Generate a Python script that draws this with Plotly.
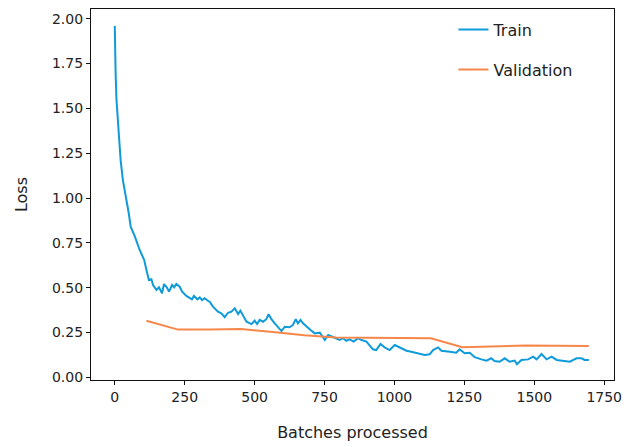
import plotly.graph_objects as go

# Training loss (batch index, loss)
train_batches = [0, 1, 3, 6, 12, 18, 21, 29, 42, 50, 57, 72, 89, 105, 113, 122, 131, 137, 149,
                 158, 169, 176, 186, 194, 205, 212, 220, 232, 241, 256, 276, 283, 295, 304, 312, 321, 333, 340, 351,
                 357, 369, 381, 393, 405, 417, 429, 441, 449, 459, 471, 489, 500, 509, 518, 530, 542, 550,
                 560, 572, 584, 596, 608, 625, 637, 647, 655, 664, 673, 685, 700, 715, 733, 751, 763,
                 778, 792, 804, 816, 828, 840, 854, 870, 882, 900, 923, 935, 950, 965, 983, 1001, 1019,
                 1043, 1060, 1078, 1108, 1126, 1138, 1156, 1168, 1198, 1221, 1233, 1251, 1269, 1287,
                 1311, 1329, 1346, 1358, 1376, 1394, 1412, 1430, 1438, 1454, 1478, 1496, 1508, 1526,
                 1544, 1562, 1580, 1603, 1627, 1651, 1669, 1680, 1695]
train_loss = [1.96, 1.71, 1.70, 1.55, 1.40, 1.23, 1.21, 1.10, 0.99, 0.915, 0.84, 0.785, 0.71, 0.655, 0.60, 0.543, 0.547, 0.515, 0.487,
              0.502, 0.469, 0.52, 0.502, 0.478, 0.515, 0.502, 0.52, 0.505, 0.478, 0.454, 0.435, 0.454, 0.435, 0.446, 0.431, 0.441, 0.427, 0.42, 0.394,
              0.385, 0.366, 0.357, 0.335, 0.36, 0.366, 0.385, 0.353, 0.372, 0.342, 0.31, 0.297, 0.316, 0.297, 0.32, 0.31, 0.324, 0.352,
              0.324, 0.301, 0.282, 0.258, 0.282, 0.279, 0.292, 0.324, 0.301, 0.32, 0.301, 0.282, 0.264, 0.245, 0.249, 0.208, 0.236,
              0.226, 0.218, 0.208, 0.218, 0.204, 0.212, 0.199, 0.218, 0.208, 0.199, 0.156, 0.152, 0.186, 0.167, 0.152, 0.18, 0.167,
              0.148, 0.143, 0.137, 0.124, 0.128, 0.152, 0.167, 0.148, 0.143, 0.137, 0.156, 0.134, 0.137, 0.112,
              0.10, 0.093, 0.106, 0.091, 0.087, 0.106, 0.087, 0.093, 0.073, 0.097, 0.10, 0.115, 0.10, 0.13,
              0.10, 0.115, 0.097, 0.093, 0.087, 0.106, 0.106, 0.097, 0.097]

# Validation loss (evaluated once per epoch)
val_batches = [113, 226, 339, 452, 565, 678, 791, 904, 1017, 1130, 1243, 1356, 1469, 1582, 1695]
val_loss = [0.315, 0.266, 0.267, 0.269, 0.252, 0.234, 0.222, 0.220, 0.219, 0.218, 0.168, 0.172, 0.177, 0.176, 0.174]

x_ticks = [0, 250, 500, 750, 1000, 1250, 1500, 1750]
y_ticks = [0.0, 0.25, 0.5, 0.75, 1.0, 1.25, 1.5, 1.75, 2.0]

FONT = "DejaVu Sans"
fig = go.Figure()
fig.add_trace(go.Scatter(x=train_batches, y=train_loss, mode="lines", name="Train",
                         legendgroup="a", line=dict(color="#0f9ad9", width=2)))
fig.add_trace(go.Scatter(x=val_batches, y=val_loss, mode="lines", name="Validation",
                         legendgroup="b", line=dict(color="#f5874a", width=2)))

axis_common = dict(showline=True, linecolor="#111", linewidth=1.2, mirror=True, ticks="outside",
                   ticklen=4, tickcolor="#111", showgrid=False, zeroline=False,
                   tickfont=dict(family=FONT, size=14, color="#222"))
fig.update_xaxes(range=[-85, 1785], tickvals=x_ticks, ticktext=[str(v) for v in x_ticks],
                 title=dict(text="Batches processed", font=dict(family=FONT, size=16, color="#222"), standoff=22),
                 **axis_common)
fig.update_yaxes(range=[-0.015, 2.054], tickvals=y_ticks, ticktext=[f"{v:.2f}" for v in y_ticks],
                 title=dict(text="Loss", font=dict(family=FONT, size=16, color="#222"), standoff=20),
                 **axis_common)
fig.update_layout(width=636, height=447, margin=dict(l=91, r=22, t=9, b=67),
                  plot_bgcolor="white", paper_bgcolor="white",
                  font=dict(family=FONT, size=15, color="#222"),
                  legend=dict(x=0.693, y=0.99, xanchor="left", yanchor="top", bgcolor="rgba(0,0,0,0)",
                              tracegroupgap=16, font=dict(family=FONT, size=16, color="#222")))
fig.write_html("out.html")
